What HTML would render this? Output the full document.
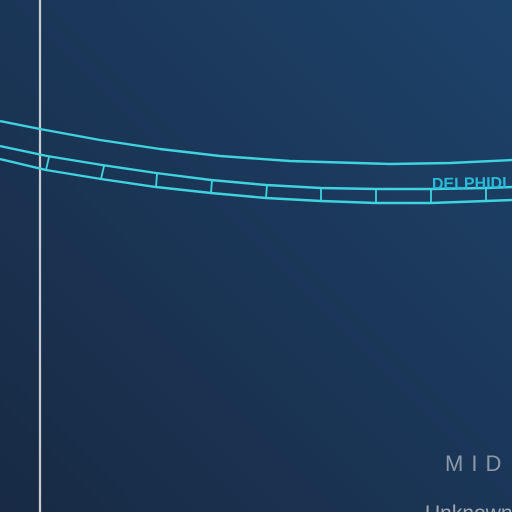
<!DOCTYPE html>
<html><head><meta charset="utf-8"><style>
html,body{margin:0;padding:0;width:512px;height:512px;overflow:hidden}
</style></head><body>
<svg width="512" height="512" viewBox="0 0 512 512">
<defs><linearGradient id="bg" x1="0" y1="1" x2="1" y2="0">
<stop offset="0" stop-color="#182a44"/><stop offset="1" stop-color="#1d426a"/></linearGradient></defs>
<rect width="512" height="512" fill="url(#bg)"/>
<line x1="40" y1="0" x2="40" y2="512" stroke="#c9ccd2" stroke-width="2.2"/>
<g fill="none" stroke="#3fd3e0" stroke-width="2.4" stroke-linejoin="round">
<polyline points="0,121 40,129 100,140 160,149 220,156 290,161 390,164 450,163 512,160"/>
<polyline points="0,146 47,156 102,165 156,173 211,180 266,185 321,188 376,189 431,189 486,188 512,187"/>
<polyline points="0,159 46,170 101,179 156,187 211,193 266,198 321,201 376,203 431,203 486,201 512,200"/>
</g>
<g stroke="#3fd3e0" stroke-width="1.8">
<line x1="49" y1="157" x2="46" y2="170"/>
<line x1="104" y1="166" x2="101" y2="179"/>
<line x1="157" y1="174" x2="156" y2="187"/>
<line x1="212" y1="180" x2="211" y2="193"/>
<line x1="267" y1="185" x2="266" y2="198"/>
<line x1="321" y1="188" x2="321" y2="201"/>
<line x1="376" y1="189" x2="376" y2="203"/>
<line x1="431" y1="189" x2="431" y2="203"/>
<line x1="486" y1="188" x2="486" y2="201"/>
</g>
<text x="432" y="189" font-family="Liberation Sans, sans-serif" font-size="16" font-weight="bold" fill="#2bb9d8" transform="rotate(-0.8 432 189)">DELPHIDI</text>
<text x="445" y="471" font-family="Liberation Sans, sans-serif" font-size="22" letter-spacing="8" fill="#8d98a8">MID</text>
<text x="425" y="520" font-family="Liberation Sans, sans-serif" font-size="21" fill="#a0a8b4">Unknown</text>
</svg>
</body></html>
